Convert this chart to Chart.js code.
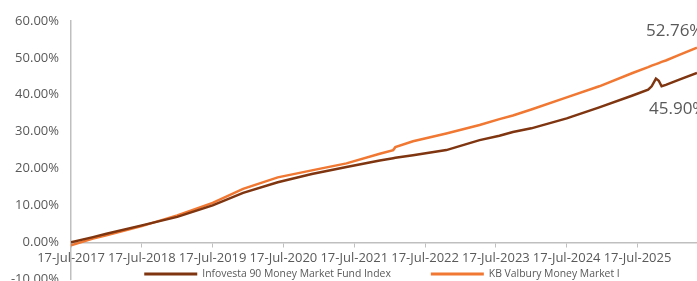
<!DOCTYPE html>
<html>
<head>
<meta charset="utf-8">
<script src="https://cdn.jsdelivr.net/npm/chart.js@4/dist/chart.umd.min.js"></script>
<style>
    html, body { margin: 0; padding: 0; background: #fff; overflow: hidden; }
    #wrap { position: relative; width: 697px; height: 299px; }
</style>
</head>
<body>
<div id="wrap"><canvas id="chart"></canvas></div>
<script>
// years since 17-Jul-2017
const years = [0, 0.31, 0.5, 1.0, 1.5, 2.0, 2.43, 2.92, 3.4, 3.89, 4.36, 4.55, 4.58, 4.83, 5.3, 5.77,
    6.05, 6.24, 6.5, 7.0, 7.46, 7.93, 8.15, 8.2, 8.26, 8.3, 8.34, 8.4, 8.59, 8.84];
const infovesta = [0.0, 1.4, 2.3, 4.6, 6.9, 10.0, 13.4, 16.3, 18.5, 20.4, 22.2, 22.8, 22.9, 23.6, 25.0, 27.7,
    28.9, 29.9, 30.9, 33.6, 36.6, 39.8, 41.4, 42.3, 44.4, 43.8, 42.3, 42.7, 44.1, 45.90];
const kbValbury = [-0.8, 1.0, 1.9, 4.4, 7.3, 10.7, 14.5, 17.6, 19.5, 21.4, 24.0, 25.0, 25.8, 27.4, 29.5, 31.8,
    33.4, 34.4, 36.0, 39.3, 42.3, 45.9, 47.5, 47.9, 48.3, 48.6, 48.9, 49.3, 50.8, 52.76];
const seriesNames = ['Infovesta 90 Money Market Fund Index', 'KB Valbury Money Market I'];
const seriesColors = ['#7f3510', '#f07832'];
const tickYears = [0, 1, 2, 3, 4, 5, 6, 7, 8];
const startYear = 2017;

const TEXT = '#595959';
const FONT = '"Open Sans", "DejaVu Sans", sans-serif';

function toPoints(vals) {
    return vals.map((v, i) => ({ x: years[i], y: v }));
}

// end-of-line value labels (orange above, brown below)
const endLabels = {
    id: 'endLabels',
    afterDatasetsDraw(chart) {
        const ctx = chart.ctx;
        const offsets = [{ dx: -48, dy: 36 }, { dx: -51, dy: -17 }];
        ctx.save();
        ctx.font = '17px ' + FONT;
        ctx.fillStyle = TEXT;
        ctx.textBaseline = 'middle';
        ctx.textAlign = 'left';
        chart.data.datasets.forEach((ds, i) => {
            const meta = chart.getDatasetMeta(i);
            const pt = meta.data[meta.data.length - 1];
            const v = ds.data[ds.data.length - 1].y;
            ctx.fillText(v.toFixed(2) + '%', pt.x + offsets[i].dx, pt.y + offsets[i].dy);
        });
        ctx.restore();
    }
};

// legend drawn over the bottom of the plot, like the source
const bottomLegend = {
    id: 'bottomLegend',
    afterDraw(chart) {
        const ctx = chart.ctx;
        const lineW = 53, gap = 5, itemGap = 40, y = 274;
        ctx.save();
        ctx.font = '10.4px ' + FONT;
        const widths = chart.data.datasets.map(ds => ctx.measureText(ds.label).width);
        const total = widths.reduce((a, w) => a + lineW + gap + w, 0) + itemGap * (widths.length - 1);
        let x = (chart.chartArea.left + chart.chartArea.right) / 2 - total / 2 - 2;
        chart.data.datasets.forEach((ds, i) => {
            ctx.strokeStyle = ds.borderColor;
            ctx.lineWidth = 3;
            ctx.beginPath();
            ctx.moveTo(x, y);
            ctx.lineTo(x + lineW, y);
            ctx.stroke();
            ctx.fillStyle = TEXT;
            ctx.textBaseline = 'middle';
            ctx.fillText(ds.label, x + lineW + gap, y);
            x += lineW + gap + widths[i] + itemGap;
        });
        ctx.restore();
    }
};

new Chart(document.getElementById('chart'), {
    type: 'line',
    data: {
        datasets: [
            {
                label: seriesNames[0],
                data: toPoints(infovesta),
                borderColor: seriesColors[0],
                backgroundColor: seriesColors[0],
                borderWidth: 2.5,
                pointRadius: 0,
                tension: 0,
            },
            {
                label: seriesNames[1],
                data: toPoints(kbValbury),
                borderColor: seriesColors[1],
                backgroundColor: seriesColors[1],
                borderWidth: 2.5,
                pointRadius: 0,
                tension: 0,
            },
        ],
    },
    options: {
        responsive: true,
        maintainAspectRatio: false,
        animation: false,
        layout: { padding: { top: 21, right: 0, left: 0, bottom: 0 } },
        scales: {
            x: {
                type: 'linear',
                position: { y: 0 },
                min: 0,
                max: years[years.length - 1],
                afterBuildTicks: (scale) => {
                    scale.ticks = tickYears.map(v => ({ value: v }));
                },
                grid: {
                    drawOnChartArea: false,
                    drawTicks: true,
                    tickLength: 4,
                    color: '#bfbfbf',
                },
                border: { color: '#bfbfbf', width: 1.5 },
                ticks: {
                    padding: 4,
                    maxRotation: 0,
                    autoSkip: false,
                    color: TEXT,
                    font: { family: FONT, size: 13 },
                    callback: (v) => '17-Jul-' + (startYear + v),
                },
            },
            y: {
                min: -10,
                max: 60,
                afterFit: (scale) => { scale.width = 71; },
                grid: { display: false, drawTicks: false },
                border: { color: '#bfbfbf', width: 1.5 },
                ticks: {
                    stepSize: 10,
                    padding: 12,
                    color: TEXT,
                    font: { family: FONT, size: 13 },
                    callback: (v) => v.toFixed(2) + '%',
                },
            },
        },
        plugins: {
            legend: { display: false },
            tooltip: { enabled: false },
        },
    },
    plugins: [endLabels, bottomLegend],
});
</script>
</body>
</html>
